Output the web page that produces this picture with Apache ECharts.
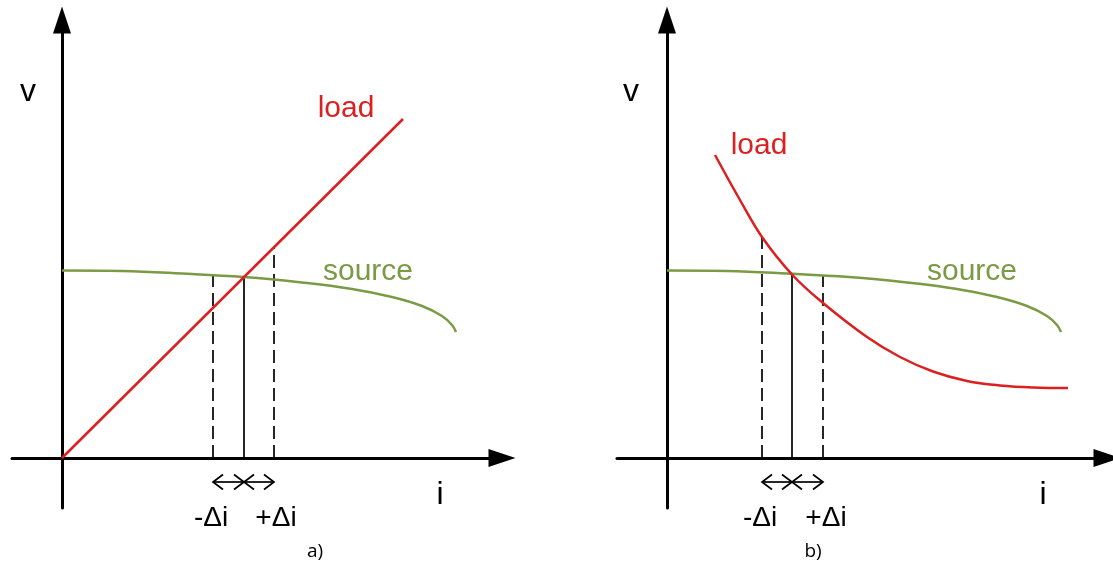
<!DOCTYPE html>
<html>
<head>
<meta charset="utf-8">
<script src="https://cdn.jsdelivr.net/npm/echarts@6/dist/echarts.min.js"></script>
<style>
html,body{margin:0;padding:0;background:#fff;}
#container{width:1113px;height:564px;}
</style>
</head>
<body>
<div id="container"></div>
<script>
// units: i and v, origin at the axis crossing
// source curve, same shape in a) and b)
var sourceCurve = [[0,18.75],[6,18.7],[12,18.45],[18.2,18.1],[24,17.55],[29,16.9],[33,16.1],[36,15.2],[38,14.2],[39,13.3],[39.4,12.6]];
// load a) is a straight resistor line
var loadA = [[0,0],[34.1,33.9]];
// load b) falling curve
var loadB = [[4.8,30.3],[7.3,25.8],[9.5,22.1],[12.5,18.35],[15.6,15.5],[20.0,12.1],[23.3,10.1],[26.6,8.65],[30.0,7.7],[33.3,7.25],[36.6,7.05],[40.1,7.0]];
// vertical guides: i, top v, dashed(1)/solid(0)
var guidesA = [[15.1,18.3,1],[18.2,18.05,0],[21.2,21.1,1]];
var guidesB = [[9.5,22.1,1],[12.5,18.35,0],[15.6,18.25,1]];
// small double arrows under the axis: i from, i to, v
var spansA = [[15.1,18.2,-2.4],[18.2,21.2,-2.4]];
var spansB = [[9.5,12.5,-2.4],[12.5,15.6,-2.4]];

var RED = '#dc1f1f';
var GREEN = '#7a9a44';
var FONT = '"Liberation Sans", Arial, sans-serif';

var myChart = echarts.init(document.getElementById('container'));

function makeAxis(isX, idx) {
    return {
        type: 'value',
        gridIndex: idx,
        min: -5,
        max: isX ? 44 : 43.8,
        splitLine: {show: false},
        axisTick: {show: false},
        axisLabel: {show: false},
        axisLine: {
            show: true,
            onZero: true,
            symbol: ['none', 'triangle'],
            symbolSize: [18, 27],
            lineStyle: {color: '#000', width: 3}
        }
    };
}

function guideSeries(list, idx) {
    var out = [];
    for (var k = 0; k < list.length; k++) {
        var g = list[k];
        out.push({
            type: 'line',
            xAxisIndex: idx, yAxisIndex: idx,
            data: [[g[0], 0], [g[0], g[1]]],
            symbol: 'none',
            silent: true,
            z: 1,
            lineStyle: {color: '#000', width: 1.7, type: g[2] ? [13, 6] : 'solid'}
        });
    }
    return out;
}

function renderSpan(params, api) {
    var p1 = api.coord([api.value(0), api.value(2)]);
    var p2 = api.coord([api.value(1), api.value(2)]);
    var w = 10, h = 7.5;
    var st = {stroke: '#000', lineWidth: 1.7, fill: null};
    return {
        type: 'group',
        children: [
            {type: 'line', shape: {x1: p1[0], y1: p1[1], x2: p2[0], y2: p2[1]}, style: st},
            {type: 'polyline', shape: {points: [[p1[0] + w, p1[1] - h], p1, [p1[0] + w, p1[1] + h]]}, style: st},
            {type: 'polyline', shape: {points: [[p2[0] - w, p2[1] - h], p2, [p2[0] - w, p2[1] + h]]}, style: st}
        ]
    };
}

function curve(data, color, idx) {
    return {
        type: 'line',
        xAxisIndex: idx, yAxisIndex: idx,
        data: data,
        symbol: 'none',
        smooth: 0.4,
        silent: true,
        z: 3,
        lineStyle: {color: color, width: 2.5}
    };
}

function label(text, x, baseline, size, color, family) {
    // text placed by centre; baseline sits ~0.3em under the middle
    return {
        type: 'text',
        x: x,
        y: baseline - size * 0.3,
        silent: true,
        style: {
            text: text,
            font: size + 'px ' + (family || FONT),
            fill: color || '#000',
            align: 'center',
            verticalAlign: 'middle'
        }
    };
}

var series = [];
series.push(curve(sourceCurve, GREEN, 0));
series.push(curve(loadA, RED, 0));
series.push(curve(sourceCurve, GREEN, 1));
series.push(curve(loadB, RED, 1));
series = series.concat(guideSeries(guidesA, 0), guideSeries(guidesB, 1));
series.push({type: 'custom', xAxisIndex: 0, yAxisIndex: 0, data: spansA, renderItem: renderSpan, silent: true});
series.push({type: 'custom', xAxisIndex: 1, yAxisIndex: 1, data: spansB, renderItem: renderSpan, silent: true});

var option = {
    animation: false,
    backgroundColor: '#fff',
    grid: [
        {left: 12, top: 20, width: 490, height: 488},
        {left: 617, top: 20, width: 490, height: 488}
    ],
    xAxis: [makeAxis(true, 0), makeAxis(true, 1)],
    yAxis: [makeAxis(false, 0), makeAxis(false, 1)],
    series: series,
    graphic: [
        label('v', 28, 102, 32),
        label('load', 346, 118, 30, RED),
        label('source', 368, 281, 30, GREEN),
        label('i', 440, 505, 32),
        label('-Δi', 211, 527, 28),
        label('+Δi', 276, 527, 28),
        label('a)', 315, 557, 19, '#000', '"Open Sans", sans-serif'),
        label('v', 631, 102, 32),
        label('load', 759, 155, 30, RED),
        label('source', 972, 281, 30, GREEN),
        label('i', 1043, 505, 32),
        label('-Δi', 760, 527, 28),
        label('+Δi', 826, 527, 28),
        label('b)', 813, 557, 19, '#000', '"Open Sans", sans-serif')
    ]
};

myChart.setOption(option, true);
</script>
</body>
</html>
